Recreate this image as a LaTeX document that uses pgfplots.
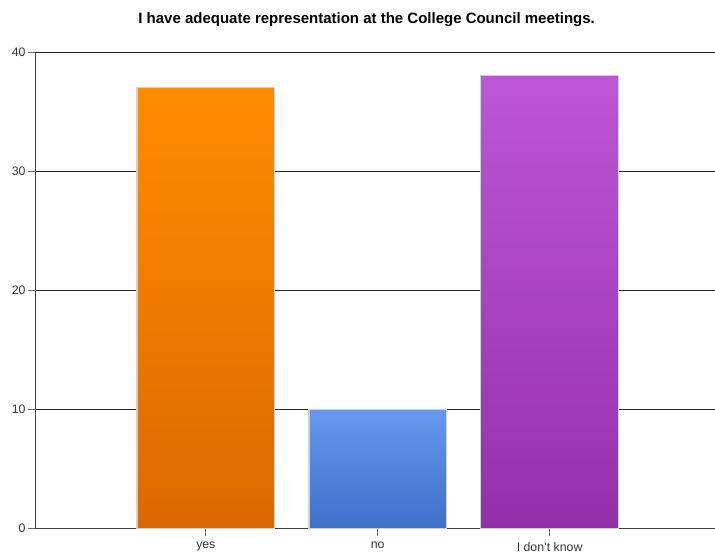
\documentclass[border=0pt]{standalone}
\usepackage{pgfplots}
\pgfplotsset{compat=1.18}
\usepackage{fontspec}
\setmainfont{Liberation Sans}
\definecolor{orTop}{HTML}{FF8C00}
\definecolor{orBot}{HTML}{DA6800}
\definecolor{blTop}{HTML}{6698EE}
\definecolor{blBot}{HTML}{3F6FC8}
\definecolor{puTop}{HTML}{BC56D6}
\definecolor{puBot}{HTML}{942FAC}
\begin{document}
\begin{tikzpicture}
\begin{axis}[
    scale only axis,
    width=680pt, height=477pt,
    at={(0,0)}, anchor=south west,
    xmin=-0.994, xmax=2.96, ymin=0, ymax=40,
    ytick={0,10,20,30,40},
    xtick={0,1,2},
    xticklabels={yes, no, I don't know},
    axis lines*=left,
    axis line style={black!75, line width=0.8pt},
    ymajorgrids,
    grid style={black!85, line width=0.8pt},
    tick align=outside,
    major tick length=7pt,
    tick style={black!60, line width=0.8pt},
    tick label style={font=\fontsize{12.3}{14}\selectfont, text=black!80},
    /pgf/number format/assume math mode=true,
    yticklabel style={xshift=1pt},
    xticklabel style={yshift=-3pt},
    clip=false,
]
\addplot[ybar, bar width=0.8, bar shift=0pt, top color=orTop, bottom color=orBot,
    draw=black!18, line width=1.3pt] coordinates {(0,37)};
\addplot[ybar, bar width=0.8, bar shift=0pt, top color=blTop, bottom color=blBot,
    draw=black!18, line width=1.3pt] coordinates {(1,10)};
\addplot[ybar, bar width=0.8, bar shift=0pt, top color=puTop, bottom color=puBot,
    draw=black!18, line width=1.3pt] coordinates {(2,38)};
\node[font=\bfseries\fontsize{15}{18}\selectfont, anchor=base]
    at (rel axis cs:0.488,1) [yshift=28pt] {I have adequate representation at the College Council meetings.};
\end{axis}
\path[use as bounding box] (-35pt,-23pt) rectangle (680pt,529pt);
\end{tikzpicture}
\end{document}
